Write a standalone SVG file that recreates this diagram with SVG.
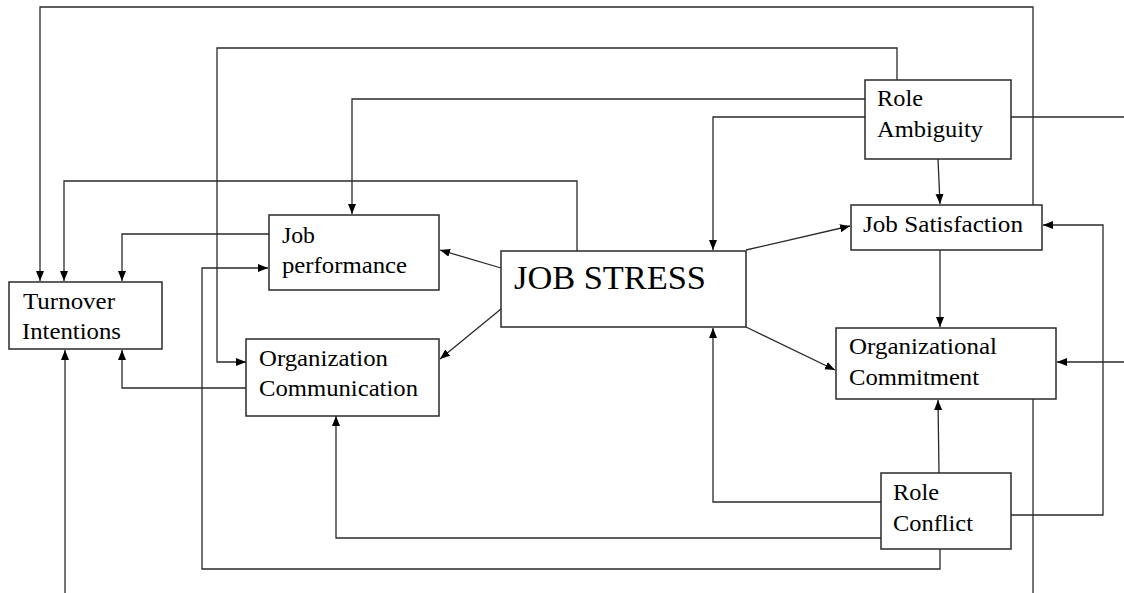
<svg xmlns="http://www.w3.org/2000/svg" width="1124" height="593" viewBox="0 0 1124 593">
<style>
.box{fill:#fff;stroke:#2a2a2a;stroke-width:1.5}
.c{fill:none;stroke:#2a2a2a;stroke-width:1.3}
.a{marker-end:url(#arr)}
text{font-family:"Liberation Serif","Times New Roman",serif;font-size:23px;fill:#000}
</style>
<defs>
<marker id="arr" markerUnits="userSpaceOnUse" markerWidth="11" markerHeight="9" refX="10" refY="4" orient="auto">
<path d="M0,0 L10,4 L0,8 z" fill="#000"/>
</marker>
</defs>
<rect width="1124" height="593" fill="#fff"/>
<g id="connectors">
<path class="c a" d="M1033,205 V7 H40 V281"/>
<path class="c a" d="M897,80 V48 H217 V362 H246"/>
<path class="c a" d="M865,99 H352 V214"/>
<path class="c a" d="M865,117 H713 V250"/>
<path class="c" d="M1011,117 H1124"/>
<path class="c a" d="M938,159 L940,204"/>
<path class="c a" d="M577,251 V181 H64 V281"/>
<path class="c a" d="M269,234 H122 V281"/>
<path class="c a" d="M246,388 H122 V350"/>
<path class="c a" d="M940,549 V569 H202 V268 H268"/>
<path class="c a" d="M881,538 H336 V416"/>
<path class="c a" d="M881,502 H713 V328"/>
<path class="c a" d="M939,473 L938,400"/>
<path class="c a" d="M1011,515 H1103 V225 H1043"/>
<path class="c a" d="M1124,362 H1057"/>
<path class="c" d="M1033,399 V593"/>
<path class="c a" d="M65,593 V350"/>
<path class="c a" d="M501,268 L440,250"/>
<path class="c a" d="M501,309 L440,359"/>
<path class="c a" d="M746,250 L850,226"/>
<path class="c a" d="M746,327 L835,370"/>
<path class="c a" d="M940,250 V327"/>
</g>
<g id="turnover">
<rect class="box" x="9" y="282" width="153" height="67"/>
<text x="23" y="309" textLength="92" lengthAdjust="spacingAndGlyphs">Turnover</text>
<text x="22" y="339" textLength="99" lengthAdjust="spacingAndGlyphs">Intentions</text>
</g>
<g id="jobperformance">
<rect class="box" x="269" y="215" width="170" height="75"/>
<text x="282" y="243" textLength="33" lengthAdjust="spacingAndGlyphs">Job</text>
<text x="282" y="273" textLength="125" lengthAdjust="spacingAndGlyphs">performance</text>
</g>
<g id="orgcomm">
<rect class="box" x="246" y="339" width="193" height="77"/>
<text x="259" y="366" textLength="129" lengthAdjust="spacingAndGlyphs">Organization</text>
<text x="259" y="396" textLength="159" lengthAdjust="spacingAndGlyphs">Communication</text>
</g>
<g id="jobstress">
<rect class="box" x="501" y="251" width="245" height="76"/>
<text x="514" y="289" style="font-size:33px" textLength="192" lengthAdjust="spacingAndGlyphs">JOB STRESS</text>
</g>
<g id="roleambiguity">
<rect class="box" x="865" y="80" width="146" height="79"/>
<text x="877" y="106" textLength="46" lengthAdjust="spacingAndGlyphs">Role</text>
<text x="877" y="137" textLength="106" lengthAdjust="spacingAndGlyphs">Ambiguity</text>
</g>
<g id="jobsatisfaction">
<rect class="box" x="851" y="205" width="191" height="45"/>
<text x="863" y="232" textLength="160" lengthAdjust="spacingAndGlyphs">Job Satisfaction</text>
</g>
<g id="orgcommitment">
<rect class="box" x="836" y="328" width="220" height="71"/>
<text x="849" y="354" textLength="148" lengthAdjust="spacingAndGlyphs">Organizational</text>
<text x="849" y="385" textLength="130" lengthAdjust="spacingAndGlyphs">Commitment</text>
</g>
<g id="roleconflict">
<rect class="box" x="881" y="473" width="130" height="76"/>
<text x="893" y="500" textLength="46" lengthAdjust="spacingAndGlyphs">Role</text>
<text x="893" y="531" textLength="80" lengthAdjust="spacingAndGlyphs">Conflict</text>
</g>
</svg>
